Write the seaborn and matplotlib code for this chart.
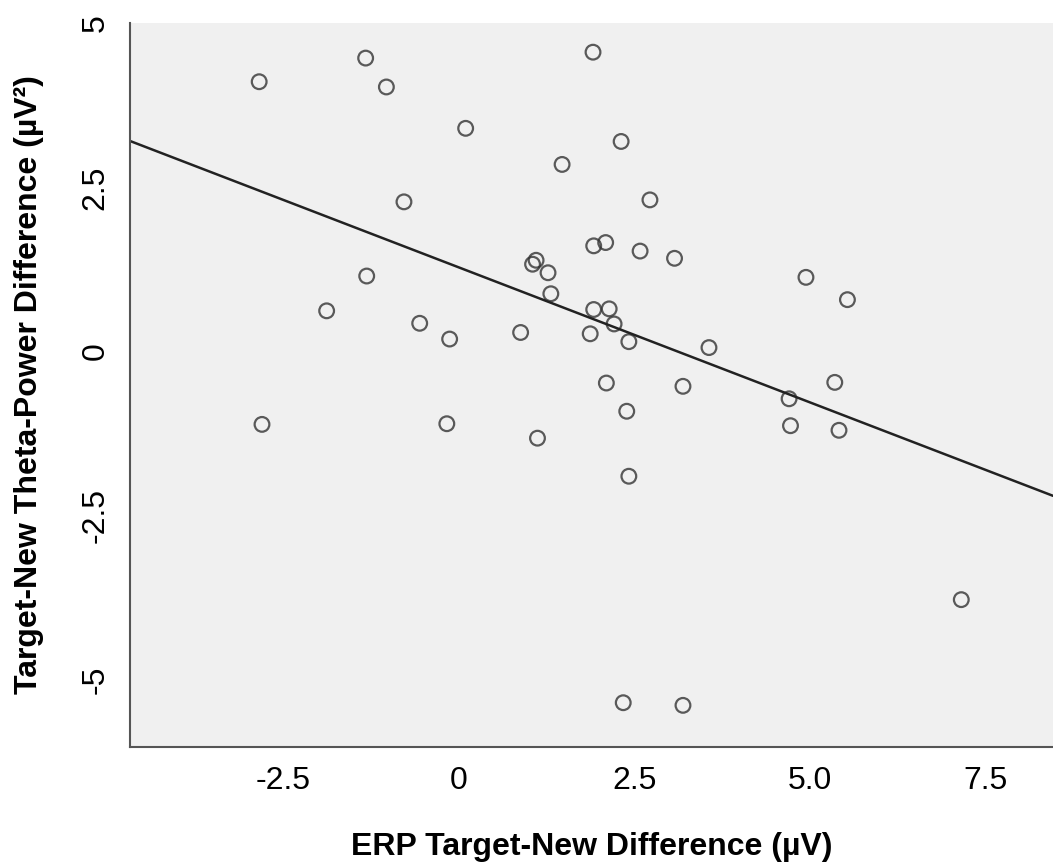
import matplotlib
matplotlib.use("Agg")
import matplotlib.pyplot as plt
import seaborn as sns
import pandas as pd

# ERP Target-New Difference (µV)
erp_diff = [-2.84, -1.325, -1.03, -0.78, -1.31, -1.88, -0.556,
            1.91, 0.098, 2.31, 1.47, 2.72, 1.92, 2.09, 2.58, 3.07, 1.10, 1.05,
            1.27, 1.31, 1.92, 2.14, 2.21, 1.87, 2.42, 0.88, -0.13, 3.56, 2.10, 3.19,
            4.94, 5.53, 5.35,
            -2.80,
            -0.17, 1.12, 2.39, 2.42, 2.34, 3.19,
            4.70, 4.72, 5.41, 7.15]
# Target-New Theta-Power Difference (µV²)
theta_diff = [4.11, 4.47, 4.03, 2.28, 1.15, 0.62, 0.43,
              4.56, 3.40, 3.20, 2.85, 2.31, 1.61, 1.66, 1.53, 1.42, 1.39, 1.33,
              1.20, 0.88, 0.64, 0.65, 0.42, 0.27, 0.15, 0.29, 0.19, 0.06, -0.48, -0.53,
              1.13, 0.79, -0.47,
              -1.11,
              -1.10, -1.32, -0.91, -1.90, -5.35, -5.39,
              -0.72, -1.13, -1.20, -3.78]

x_ticks = [-2.5, 0, 2.5, 5.0, 7.5]
x_tick_labels = ["-2.5", "0", "2.5", "5.0", "7.5"]
y_ticks = [5, 2.5, 0, -2.5, -5]
y_tick_labels = ["5", "2.5", "0", "-2.5", "-5"]

x_label = "ERP Target-New Difference (\u00b5V)"
y_label = "Target-New Theta-Power Difference (\u00b5V\u00b2)"

df = pd.DataFrame({"erp": erp_diff, "theta": theta_diff})

sns.set_theme(style="white")
plt.rcParams["font.family"] = ["Liberation Sans", "DejaVu Sans"]

fig = plt.figure(figsize=(10.53, 8.66), dpi=100)
ax = fig.add_axes([130 / 1053, (866 - 746.7) / 866, (1053 - 130) / 1053, (746.7 - 23.3) / 866])
ax.set_facecolor("#f0f0f0")
ax.set_xlim(-4.678, 8.455)
ax.set_ylim(-6.02, 5.0)

sns.regplot(data=df, x="erp", y="theta", ax=ax, ci=None, truncate=False,
            scatter_kws=dict(s=112, facecolors="none", edgecolors="#333333", linewidths=1.6),
            line_kws=dict(color="#222222", linewidth=1.8))

ax.set_xlim(-4.678, 8.455)
ax.set_ylim(-6.02, 5.0)

for side in ["top", "right"]:
    ax.spines[side].set_visible(False)
for side in ["left", "bottom"]:
    ax.spines[side].set_visible(True)
    ax.spines[side].set_color("#555555")
    ax.spines[side].set_linewidth(1.5)

ax.set_xticks(x_ticks)
ax.set_xticklabels(x_tick_labels)
ax.set_yticks(y_ticks)
ax.set_yticklabels(y_tick_labels, rotation=90, va="center")
ax.tick_params(axis="both", direction="out", length=3, width=1.2, color="#444444",
               labelsize=23, labelcolor="black", pad=11)

ax.set_xlabel(x_label, fontsize=23, fontweight="bold", color="black", labelpad=26)
ax.set_ylabel(y_label, fontsize=23, fontweight="bold", color="black", labelpad=26)

fig.savefig("out.png", dpi=100)
